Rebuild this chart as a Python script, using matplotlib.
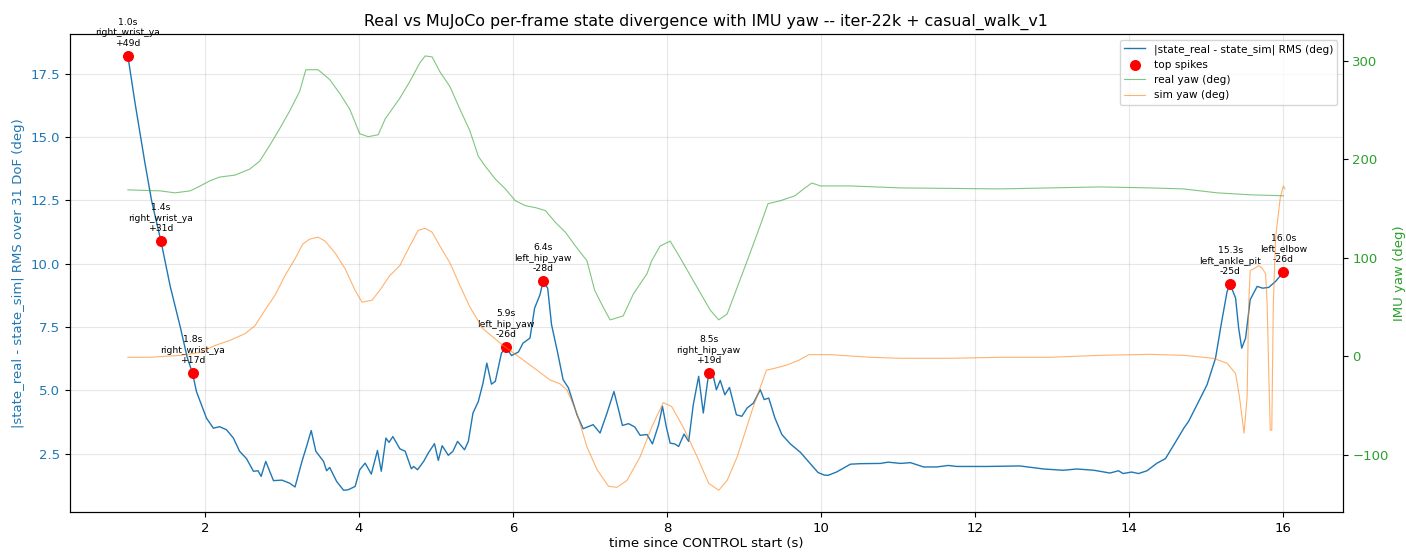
import matplotlib
matplotlib.use("Agg")
import matplotlib.pyplot as plt

# per-frame RMS divergence (deg)
t_rms = [1.00, 1.09, 1.22, 1.31, 1.43, 1.55, 1.68, 1.77, 1.84, 1.89, 2.02, 2.11, 2.19, 2.28, 2.37,
         2.45, 2.54, 2.63, 2.69, 2.73, 2.79, 2.89, 3.00, 3.10, 3.17, 3.26, 3.32, 3.38, 3.44, 3.54,
         3.58, 3.62, 3.71, 3.80, 3.86, 3.95, 4.01, 4.08, 4.16, 4.24, 4.29, 4.35, 4.39, 4.44, 4.53,
         4.60, 4.68, 4.71, 4.76, 4.84, 4.90, 4.98, 5.03, 5.08, 5.16, 5.22, 5.28, 5.37, 5.42, 5.48,
         5.55, 5.61, 5.66, 5.72, 5.77, 5.85, 5.91, 5.98, 6.07, 6.13, 6.22, 6.28, 6.35, 6.39, 6.45,
         6.50, 6.58, 6.65, 6.72, 6.83, 6.91, 7.04, 7.13, 7.22, 7.31, 7.37, 7.42, 7.50, 7.58, 7.65,
         7.74, 7.81, 7.89, 7.94, 7.99, 8.04, 8.10, 8.15, 8.22, 8.28, 8.34, 8.41, 8.47, 8.54, 8.60,
         8.64, 8.69, 8.75, 8.81, 8.90, 8.97, 9.04, 9.12, 9.21, 9.26, 9.32, 9.40, 9.49, 9.60, 9.73,
         9.86, 9.96, 10.04, 10.09, 10.20, 10.38, 10.51, 10.77, 10.87, 11.03, 11.16, 11.33, 11.50, 11.65, 11.76,
         12.15, 12.58, 12.89, 13.14, 13.32, 13.54, 13.75, 13.86, 13.92, 14.03, 14.12, 14.23, 14.36, 14.47, 14.58,
         14.71, 14.77, 14.88, 15.01, 15.12, 15.20, 15.27, 15.31, 15.38, 15.42, 15.46, 15.51, 15.57, 15.66, 15.73,
         15.81, 15.90, 16.00]
rms = [18.2, 16.4, 14.0, 12.45, 10.88, 9.1, 7.5, 6.3, 5.67, 4.95, 3.9, 3.5, 3.56, 3.44, 3.11,
       2.59, 2.3, 1.8, 1.82, 1.6, 2.19, 1.43, 1.45, 1.33, 1.18, 2.19, 2.78, 3.41, 2.59, 2.19,
       1.82, 1.95, 1.4, 1.05, 1.07, 1.2, 1.86, 2.12, 1.69, 2.62, 1.8, 3.11, 2.94, 3.17, 2.69,
       2.59, 1.9, 1.99, 1.86, 2.19, 2.52, 2.89, 2.23, 2.81, 2.43, 2.59, 2.98, 2.65, 2.98, 4.1,
       4.56, 5.28, 6.07, 5.24, 5.35, 6.47, 6.69, 6.37, 6.51, 6.86, 7.06, 8.24, 8.77, 9.3, 9.03,
       7.59, 6.47, 5.42, 5.09, 4.03, 3.48, 3.64, 3.31, 4.1, 4.95, 4.23, 3.61, 3.68, 3.55, 3.22,
       3.25, 2.88, 3.64, 4.36, 3.55, 2.91, 2.88, 2.78, 3.27, 2.98, 4.43, 5.55, 4.1, 5.67, 5.55,
       5.02, 5.39, 4.82, 5.11, 4.03, 3.97, 4.3, 4.49, 5.02, 4.63, 4.69, 3.9, 3.25, 2.88, 2.55,
       2.1, 1.75, 1.65, 1.64, 1.77, 2.08, 2.1, 2.11, 2.16, 2.11, 2.14, 1.97, 1.97, 2.03, 1.99,
       1.99, 2.01, 1.89, 1.84, 1.89, 1.84, 1.73, 1.82, 1.71, 1.77, 1.71, 1.82, 2.12, 2.3, 2.85,
       3.51, 3.77, 4.43, 5.22, 6.27, 7.72, 8.9, 9.18, 8.64, 7.45, 6.66, 7.06, 8.58, 9.1, 9.03,
       9.06, 9.3, 9.66]

# top spikes
spike_t = [1.0, 1.43, 1.84, 5.91, 6.39, 8.54, 15.31, 16.0]
spike_v = [18.2, 10.88, 5.67, 6.69, 9.3, 5.67, 9.18, 9.66]
spike_joint = ["right_wrist_ya", "right_wrist_ya", "right_wrist_ya", "left_hip_yaw",
               "left_hip_yaw", "right_hip_yaw", "left_ankle_pit", "left_elbow"]
spike_dev = ["+49d", "+31d", "+17d", "-26d", "-28d", "+19d", "-25d", "-26d"]

# IMU yaw, real robot
t_real = [1.00, 1.42, 1.61, 1.81, 1.94, 2.06, 2.19, 2.39, 2.58, 2.71, 2.84, 2.97, 3.10, 3.23, 3.31,
          3.47, 3.62, 3.75, 3.88, 4.01, 4.12, 4.25, 4.34, 4.43, 4.53, 4.66, 4.79, 4.86, 4.95, 5.05,
          5.18, 5.31, 5.44, 5.55, 5.64, 5.77, 5.90, 6.03, 6.16, 6.29, 6.42, 6.55, 6.68, 6.81, 6.96,
          7.06, 7.17, 7.26, 7.43, 7.56, 7.74, 7.80, 7.91, 8.04, 8.17, 8.39, 8.56, 8.67, 8.78, 8.91,
          9.04, 9.21, 9.31, 9.47, 9.66, 9.79, 9.88, 9.99, 10.38, 11.03, 12.32, 13.62, 14.27, 14.70, 15.14,
          15.57, 16.00]
yaw_real = [169, 168, 166, 168, 173, 178, 182, 184, 190, 198, 214, 231, 249, 269, 291,
            291, 281, 267, 251, 226, 223, 225, 241, 251, 262, 279, 298, 305, 304, 289,
            274, 251, 229, 203, 193, 180, 170, 158, 153, 151, 148, 136, 126, 112, 97,
            67, 50, 37, 41, 63, 84, 97, 112, 117, 100, 70, 47, 37, 43, 70,
            97, 133, 155, 158, 163, 171, 176, 173, 173, 171, 170, 172, 171, 170, 166,
            164, 163]

# IMU yaw, MuJoCo sim
t_sim = [1.00, 1.29, 1.68, 1.94, 2.13, 2.32, 2.52, 2.65, 2.78, 2.91, 3.04, 3.17, 3.27, 3.36, 3.47,
         3.56, 3.69, 3.82, 3.95, 4.04, 4.17, 4.27, 4.40, 4.53, 4.66, 4.77, 4.86, 4.95, 5.05, 5.18,
         5.31, 5.44, 5.61, 5.87, 6.05, 6.31, 6.48, 6.61, 6.70, 6.83, 6.96, 7.09, 7.24, 7.35, 7.48,
         7.65, 7.80, 7.95, 8.06, 8.21, 8.39, 8.54, 8.67, 8.78, 8.91, 9.12, 9.29, 9.38, 9.55, 9.71,
         9.84, 10.12, 10.64, 11.03, 11.68, 12.32, 12.97, 13.62, 14.27, 14.71, 15.09, 15.27, 15.38, 15.43, 15.49,
         15.53, 15.55, 15.57, 15.64, 15.68, 15.72, 15.77, 15.79, 15.81, 15.83, 15.85, 15.87, 15.90, 15.96, 16.00,
         16.02]
yaw_sim = [-1, -1, 1, 4, 11, 16, 23, 31, 47, 62, 82, 99, 114, 119, 121,
           117, 105, 89, 67, 55, 57, 67, 82, 92, 112, 128, 130, 126, 112, 95,
           72, 50, 28, 11, 1, -14, -24, -28, -34, -58, -92, -115, -132, -133, -126,
           -102, -72, -47, -51, -72, -102, -129, -136, -126, -102, -51, -14, -12.5, -9, -4,
           1.7, 1.7, -1, -2, -2, -1, -1, 1, 2, 1, -2, -7, -17.5, -41, -78,
           -41, 53, 87, 90, 92, 90, 84, 53, -14, -75, -75, 53, 121, 161, 173,
           170]

plt.rcParams["font.size"] = 9.5

fig, ax = plt.subplots(figsize=(14.06, 5.52), dpi=100)
fig.subplots_adjust(left=0.0498, right=0.955, top=0.938, bottom=0.0725)

l1, = ax.plot(t_rms, rms, color="tab:blue", lw=1.0, label="|state_real - state_sim| RMS (deg)")
sc = ax.scatter(spike_t, spike_v, color="red", s=48, zorder=5, label="top spikes")
for t, v, j, d in zip(spike_t, spike_v, spike_joint, spike_dev):
    ax.annotate(f"{t:.1f}s\n{j}\n{d}", (t, v), xytext=(0, 6), textcoords="offset points",
                ha="center", va="bottom", fontsize=6.7)
ax.set_xlabel("time since CONTROL start (s)", labelpad=2)
ax.set_ylabel("|state_real - state_sim| RMS over 31 DoF (deg)", color="tab:blue")
ax.tick_params(axis="y", labelcolor="tab:blue")
ax.grid(True, alpha=0.3)

ax2 = ax.twinx()
l2, = ax2.plot(t_real, yaw_real, color="tab:green", lw=0.8, alpha=0.6, label="real yaw (deg)")
l3, = ax2.plot(t_sim, yaw_sim, color="tab:orange", lw=0.8, alpha=0.6, label="sim yaw (deg)")
ax2.set_ylabel("IMU yaw (deg)", color="tab:green", labelpad=3)
ax2.tick_params(axis="y", labelcolor="tab:green")

ax2.legend([l1, sc, l2, l3], [h.get_label() for h in [l1, sc, l2, l3]], loc="upper right", fontsize=7.6)
ax.set_title("Real vs MuJoCo per-frame state divergence with IMU yaw -- iter-22k + casual_walk_v1",
             fontsize=11.4)

fig.savefig("out.png")
